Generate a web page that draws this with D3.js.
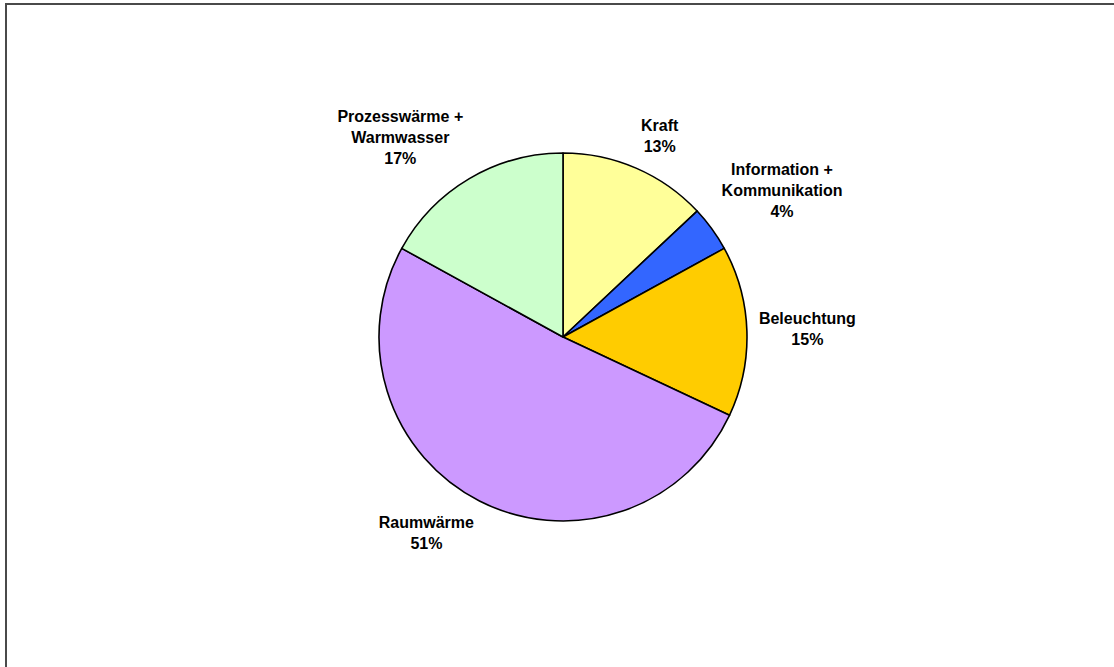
<!DOCTYPE html>
<html>
<head>
<meta charset="utf-8">
<script src="https://cdn.jsdelivr.net/npm/d3@7"></script>
<style>
  html, body { margin: 0; padding: 0; background: #fff; }
  svg { display: block; }
</style>
</head>
<body>
<svg id="chart" width="1114" height="667"></svg>
<script>
// Energy use by application (share in %)
const categories = ["Kraft", "Information + Kommunikation", "Beleuchtung", "Raumwärme", "Prozesswärme + Warmwasser"];
const labelLines = [["Kraft"], ["Information +", "Kommunikation"], ["Beleuchtung"], ["Raumwärme"], ["Prozesswärme +", "Warmwasser"]];
const values = [13, 4, 15, 51, 17];
const colors = ["#FFFF99", "#3366FF", "#FFCC00", "#CC99FF", "#CCFFCC"];

const W = 1114, H = 667;
const cx = 563, cy = 337, radius = 184;
const svg = d3.select("#chart");

// chart area frame (only top and left edges fall inside the view)
svg.append("rect")
  .attr("x", 6).attr("y", 4)
  .attr("width", W + 20).attr("height", H + 20)
  .attr("fill", "none").attr("stroke", "#4a4a4a").attr("stroke-width", 2);

const data = categories.map((c, i) => ({ name: c, lines: labelLines[i], value: values[i], color: colors[i] }));
const pie = d3.pie().value(d => d.value).sort(null);
const arcs = pie(data);
const arc = d3.arc().innerRadius(0).outerRadius(radius);

const g = svg.append("g").attr("transform", `translate(${cx},${cy})`);

g.selectAll("path.slice")
  .data(arcs)
  .join("path")
  .attr("class", "slice")
  .attr("d", arc)
  .attr("fill", d => d.data.color)
  .attr("stroke", "#000")
  .attr("stroke-width", 1.6)
  .attr("stroke-linejoin", "round");

const total = d3.sum(values);
const fmt = v => Math.round(v / total * 100) + "%";
const fontSize = 16, lineH = 21;

// labels placed just outside the rim, pushed away along the slice's mid angle
const labels = g.selectAll("g.lbl")
  .data(arcs)
  .join("g")
  .attr("class", "lbl");

labels.each(function (d) {
  const el = d3.select(this);
  const lines = d.data.lines.concat([fmt(d.data.value)]);
  const text = el.append("text")
    .attr("text-anchor", "middle")
    .attr("font-family", "Liberation Sans, Arial, sans-serif")
    .attr("font-weight", "bold")
    .attr("font-size", fontSize)
    .attr("fill", "#000");
  lines.forEach((t, i) => {
    text.append("tspan").attr("x", 0).attr("y", i * lineH).text(t);
  });
  const bb = text.node().getBBox();
  const w = bb.width, h = lines.length * lineH;
  const a = (d.startAngle + d.endAngle) / 2;
  const r0 = radius + 12;
  const px = Math.sin(a) * r0, py = -Math.cos(a) * r0;
  const clamp = v => Math.max(-1, Math.min(1, v));
  const ox = clamp(Math.sin(a) * 2.5) * w / 2;
  const oy = -clamp(Math.cos(a) * 2.5) * h / 2;
  const centerX = px + ox, centerY = py + oy;
  // first baseline so the block is vertically centred on centerY
  const top = centerY - h / 2;
  el.attr("transform", `translate(${centerX},${top + lineH * 0.5 + fontSize * 0.36})`);
});
</script>
</body>
</html>
